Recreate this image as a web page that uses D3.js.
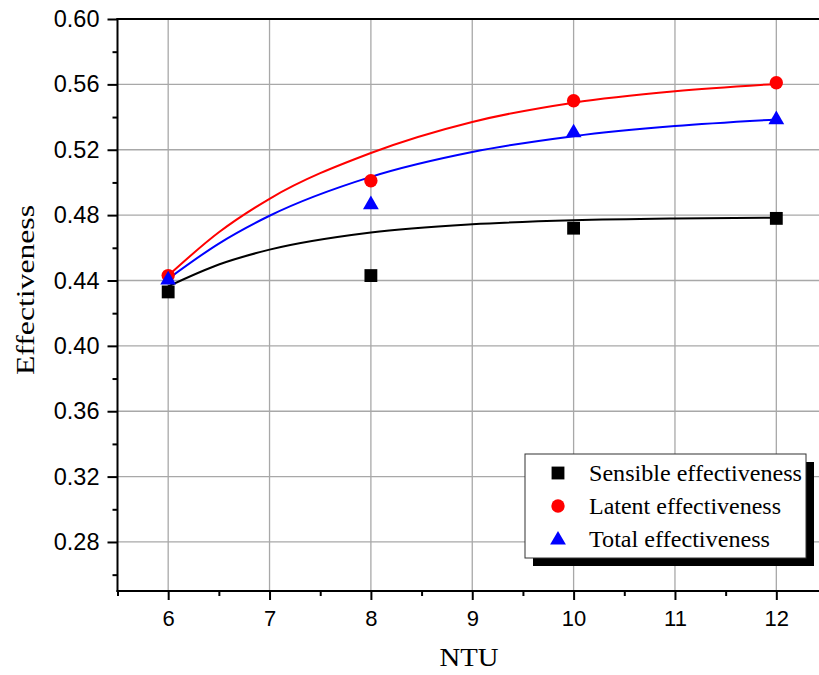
<!DOCTYPE html>
<html>
<head>
<meta charset="utf-8">
<script src="https://cdn.jsdelivr.net/npm/d3@7"></script>
<style>
  html, body { margin: 0; padding: 0; background: #fff; }
  svg { display: block; }
</style>
</head>
<body>
<svg id="chart" width="819" height="675"></svg>
<script>
// Measured effectiveness at each NTU
const ntu = [6, 8, 10, 12];
const sensible = [0.433, 0.443, 0.472, 0.478];
const latent = [0.443, 0.501, 0.550, 0.561];
const total = [0.441, 0.487, 0.531, 0.539];

// Fitted trend curves, sampled along NTU
const fitNtu = [6, 6.5, 7, 8, 9, 10, 11, 12];
const sensibleFit = [0.4364, 0.4498, 0.4589, 0.4694, 0.4744, 0.4768, 0.4779, 0.4784];
const latentFit = [0.4430, 0.4695, 0.4900, 0.5180, 0.5370, 0.5488, 0.5558, 0.5603];
const totalFit = [0.4410, 0.4626, 0.4796, 0.5034, 0.5186, 0.5283, 0.5345, 0.5385];

const xTicks = [6, 7, 8, 9, 10, 11, 12];
const yTicks = [0.28, 0.32, 0.36, 0.40, 0.44, 0.48, 0.52, 0.56, 0.60];

const legendLabels = ["Sensible effectiveness", "Latent effectiveness", "Total effectiveness"];

(function () {
  const svg = d3.select("#chart");
  const mLeft = 117.5, mTop = 19, mBottom = 591, mRight = 827;

  const x = d3.scaleLinear().domain([5.5, 12.5]).range([mLeft, mRight]);
  const y = d3.scaleLinear().domain([0.25, 0.60]).range([mBottom, mTop]);

  // grid
  const grid = svg.append("g");
  grid.selectAll("line.vx").data(xTicks).enter().append("line")
    .attr("x1", d => x(d)).attr("x2", d => x(d))
    .attr("y1", mTop).attr("y2", mBottom)
    .attr("stroke", "#a8a8a8").attr("stroke-width", 1.3);
  grid.selectAll("line.hy").data(yTicks.filter(v => v < 0.6)).enter().append("line")
    .attr("x1", mLeft).attr("x2", 819)
    .attr("y1", d => y(d)).attr("y2", d => y(d))
    .attr("stroke", "#a8a8a8").attr("stroke-width", 1.3);

  // axes
  const tickFont = "'Liberation Sans', Arial, sans-serif";
  const xAxis = d3.axisBottom(x).tickValues(xTicks).tickFormat(d3.format("d"))
    .tickSize(9).tickPadding(10);
  const xMinor = d3.axisBottom(x).tickValues(d3.range(5.5, 12.6, 0.5).filter(v => v % 1 !== 0))
    .tickSize(5).tickFormat("");
  const yAxis = d3.axisLeft(y).tickValues(yTicks).tickFormat(d3.format(".2f"))
    .tickSize(10).tickPadding(8);
  const yMinor = d3.axisLeft(y).tickValues(d3.range(0.26, 0.60, 0.04))
    .tickSize(5).tickFormat("");

  function styleAxis(size) {
    return g => {
      g.select(".domain").remove();
      g.selectAll(".tick line").attr("stroke", "#000").attr("stroke-width", 2);
      g.selectAll(".tick text").attr("fill", "#000")
        .style("font-family", tickFont).style("font-size", size + "px");
    };
  }

  svg.append("g").attr("transform", `translate(0,${mBottom})`).call(xAxis).call(styleAxis(22));
  svg.append("g").attr("transform", `translate(0,${mBottom})`).call(xMinor).call(styleAxis(22));
  svg.append("g").attr("transform", `translate(${mLeft},0)`).call(yAxis).call(styleAxis(23.5));
  svg.append("g").attr("transform", `translate(${mLeft},0)`).call(yMinor).call(styleAxis(23.5));

  // frame lines
  svg.append("line").attr("x1", mLeft).attr("x2", mLeft).attr("y1", mTop - 1).attr("y2", mBottom + 1)
    .attr("stroke", "#000").attr("stroke-width", 2);
  svg.append("line").attr("x1", mLeft - 1).attr("x2", 819).attr("y1", mBottom).attr("y2", mBottom)
    .attr("stroke", "#000").attr("stroke-width", 2);
  svg.append("line").attr("x1", mLeft - 1).attr("x2", 819).attr("y1", mTop).attr("y2", mTop)
    .attr("stroke", "#000").attr("stroke-width", 2);

  // fitted curves
  const line = d3.line().x(d => x(d[0])).y(d => y(d[1])).curve(d3.curveMonotoneX);
  const fits = [
    { vals: sensibleFit, color: "#000000" },
    { vals: latentFit, color: "#ff0000" },
    { vals: totalFit, color: "#0000ff" }
  ];
  fits.forEach(f => {
    svg.append("path").datum(fitNtu.map((n, i) => [n, f.vals[i]]))
      .attr("d", line).attr("fill", "none")
      .attr("stroke", f.color).attr("stroke-width", 2);
  });

  // markers
  const sq = d3.symbol().type(d3.symbolSquare).size(165);
  const circ = d3.symbol().type(d3.symbolCircle).size(140);
  const tri = d3.symbol().type(d3.symbolTriangle).size(108);

  svg.append("g").selectAll("path").data(ntu.map((n, i) => [n, sensible[i]])).enter().append("path")
    .attr("d", sq).attr("fill", "#000")
    .attr("transform", d => `translate(${x(d[0])},${y(d[1])})`);
  svg.append("g").selectAll("path").data(ntu.map((n, i) => [n, latent[i]])).enter().append("path")
    .attr("d", circ).attr("fill", "#ff0000")
    .attr("transform", d => `translate(${x(d[0])},${y(d[1])})`);
  svg.append("g").selectAll("path").data(ntu.map((n, i) => [n, total[i]])).enter().append("path")
    .attr("d", tri).attr("fill", "#0000ff")
    .attr("transform", d => `translate(${x(d[0])},${y(d[1]) + 1})`);

  // axis titles
  const serif = "'Liberation Serif', 'Times New Roman', serif";
  svg.append("text").attr("x", 469).attr("y", 666).attr("text-anchor", "middle")
    .attr("textLength", 59).attr("lengthAdjust", "spacingAndGlyphs")
    .style("font-family", serif).style("font-size", "25px").text("NTU");
  svg.append("text").attr("transform", "translate(34,290) rotate(-90)").attr("text-anchor", "middle")
    .attr("textLength", 170).attr("lengthAdjust", "spacingAndGlyphs")
    .style("font-family", serif).style("font-size", "26px").text("Effectiveness");

  // legend
  const lg = svg.append("g");
  const lx = 525, ly = 454, lw = 281, lh = 104;
  lg.append("rect").attr("x", lx + 8).attr("y", ly + 8).attr("width", lw).attr("height", lh).attr("fill", "#000");
  lg.append("rect").attr("x", lx).attr("y", ly).attr("width", lw).attr("height", lh)
    .attr("fill", "#fff").attr("stroke", "#333").attr("stroke-width", 1);
  const legendMarks = [
    { sym: sq, color: "#000", len: 213 },
    { sym: circ, color: "#ff0000", len: 192 },
    { sym: tri, color: "#0000ff", len: 181 }
  ];
  legendLabels.forEach((label, i) => {
    const cy = ly + 19 + i * 33;
    lg.append("path").attr("d", legendMarks[i].sym).attr("fill", legendMarks[i].color)
      .attr("transform", `translate(558,${cy + (i === 2 ? 1 : 0)})`);
    lg.append("text").attr("x", 589).attr("y", cy + 8)
      .attr("textLength", legendMarks[i].len).attr("lengthAdjust", "spacingAndGlyphs")
      .style("font-family", serif).style("font-size", "23px").text(label);
  });
})();
</script>
</body>
</html>
